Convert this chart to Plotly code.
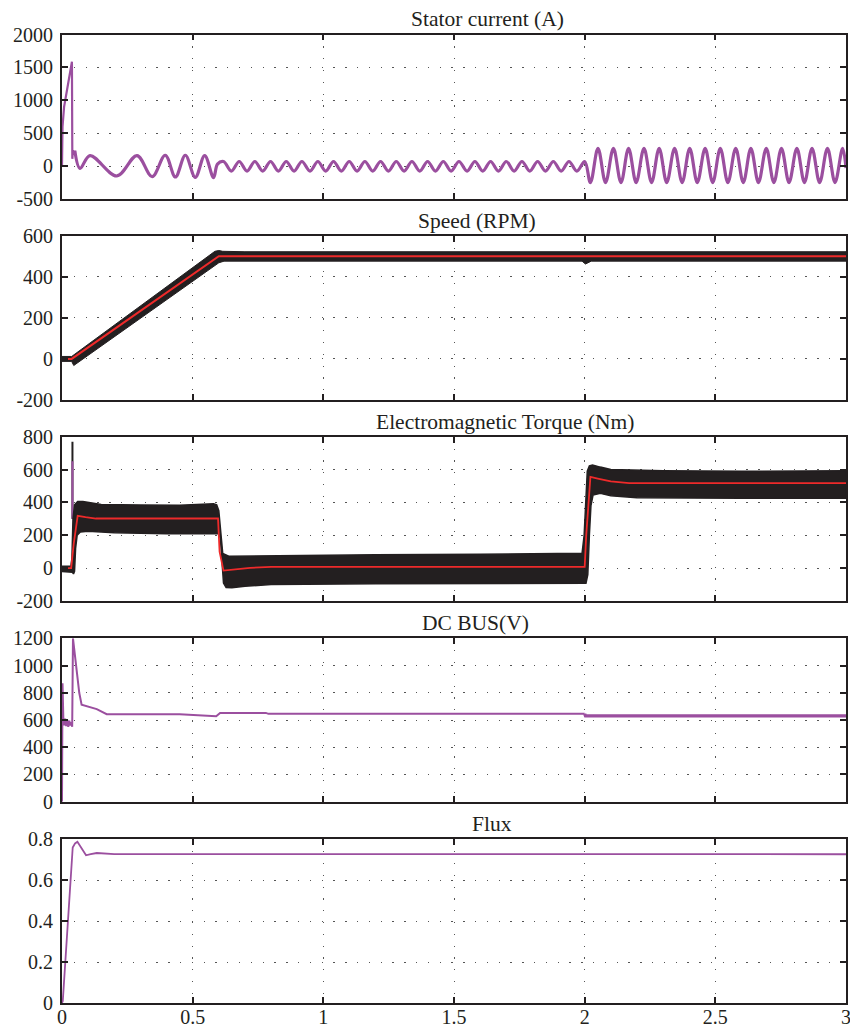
import plotly.graph_objects as go
from plotly.subplots import make_subplots

# ---------------- data ----------------
# Stator current (A): start-up spike (straight segments)
cur_spike_t = [0.0, 0.002, 0.008, 0.020, 0.030, 0.038, 0.0395, 0.042, 0.046, 0.049]
cur_spike_v = [0, 600, 900, 1150, 1380, 1585, 110, 240, 170, 235]
# Stator current (A): oscillation extrema (peaks / troughs), smoothed by spline
cur_t = [0.049, 0.069, 0.107, 0.210, 0.287, 0.345, 0.395, 0.434, 0.472, 0.510,
         0.546, 0.580, 0.595,
         0.618, 0.648, 0.678, 0.708, 0.738, 0.768, 0.798, 0.828, 0.858, 0.888,
         0.918, 0.949, 0.979, 1.009, 1.039, 1.069, 1.099, 1.129, 1.159, 1.189,
         1.219, 1.249, 1.279, 1.309, 1.339, 1.369, 1.399, 1.429, 1.459, 1.489,
         1.519, 1.550, 1.580, 1.610, 1.640, 1.670, 1.700, 1.730, 1.760, 1.790,
         1.820, 1.850, 1.880, 1.910, 1.940, 1.970, 2.000,
         2.022, 2.051, 2.080, 2.110, 2.139, 2.168, 2.197, 2.227, 2.256, 2.285,
         2.314, 2.344, 2.373, 2.402, 2.431, 2.461, 2.490, 2.519, 2.548, 2.578,
         2.607, 2.636, 2.665, 2.695, 2.724, 2.753, 2.782, 2.812, 2.841, 2.870,
         2.899, 2.929, 2.958, 2.987, 3.000]
cur_v = [235, -35, 160, -150, 160, -160, 165, -165, 165, -170,
         160, -175, 30,
         70, -75, 70, -75, 70, -75, 70, -75, 70, -75,
         70, -75, 70, -75, 70, -75, 70, -75, 70, -75,
         70, -75, 70, -75, 70, -75, 70, -75, 70, -75,
         70, -75, 70, -75, 70, -75, 70, -75, 70, -75,
         70, -75, 70, -75, 70, -75, 70,
         -250, 270, -250, 270, -250, 270, -250, 270, -250, 270,
         -250, 270, -250, 270, -250, 270, -250, 270, -250, 270,
         -250, 270, -250, 270, -250, 270, -250, 270, -250, 270,
         -250, 270, -250, 270, -30]

# Speed (RPM): reference (red) and measured band (black) envelopes
spd_ref_t = [0.0, 0.037, 0.600, 3.000]
spd_ref_v = [0, 0, 500, 500]
spd_up_t = [0.0, 0.037, 0.585, 0.600, 0.615, 0.700, 3.000]
spd_up_v = [12, 12, 524, 528, 524, 522, 522]
spd_lo_t = [0.0, 0.037, 0.045, 0.600, 0.620, 1.990, 2.003, 2.012, 2.025, 3.000]
spd_lo_v = [-12, -12, -32, 468, 476, 476, 462, 466, 476, 476]

# Electromagnetic torque (Nm): reference (red) and band (black) envelopes
trq_ref_t = [0.0, 0.035, 0.045, 0.060, 0.090, 0.130, 0.597, 0.603, 0.618, 0.640,
             0.720, 0.800, 2.000, 2.006, 2.022, 2.050, 2.100, 2.170, 3.000]
trq_ref_v = [0, 0, 150, 318, 310, 302, 302, 100, -15, -12,
             2, 8, 8, 200, 555, 545, 528, 518, 518]
trq_up_t = [0.0, 0.034, 0.038, 0.042, 0.048, 0.060, 0.080, 0.150, 0.300, 0.450,
            0.580, 0.592, 0.600, 0.606, 0.615, 0.640, 0.800, 1.200, 1.600, 1.990,
            1.998, 2.004, 2.010, 2.018, 2.030, 2.060, 2.100, 2.300, 2.600, 3.000]
trq_up_v = [12, 12, 60, 300, 385, 405, 405, 388, 385, 383,
            392, 385, 350, 250, 90, 72, 75, 82, 85, 90,
            200, 450, 590, 622, 628, 615, 600, 592, 590, 592]
trq_lo_t = [0.0, 0.040, 0.044, 0.048, 0.052, 0.058, 0.070, 0.100, 0.200, 0.400,
            0.600, 0.606, 0.612, 0.618, 0.628, 0.650, 0.700, 0.800, 1.200, 1.600,
            2.005, 2.012, 2.018, 2.024, 2.032, 2.060, 2.100, 2.200, 2.600, 3.000]
trq_lo_v = [-20, -25, -35, -20, 120, 200, 220, 225, 215, 210,
            210, 180, 40, -90, -118, -120, -110, -100, -95, -92,
            -92, -40, 200, 380, 445, 455, 440, 428, 425, 425]
trq_spike_t = [0.040, 0.040]
trq_spike_black = [300, 770]
trq_spike_purple = [300, 650]

# DC bus (V)
dc_t = [0.0, 0.002, 0.005, 0.008, 0.012, 0.016, 0.020, 0.024, 0.028, 0.032,
        0.036, 0.039, 0.042, 0.050, 0.056, 0.066, 0.075, 0.100, 0.133, 0.171,
        0.450, 0.590, 0.605, 0.780, 0.790, 2.000]
dc_v = [0, 870, 620, 560, 610, 555, 600, 550, 595, 560,
        585, 550, 1200, 1080, 965, 800, 712, 700, 680, 643,
        642, 628, 652, 652, 645, 645]
dc_end_t = [2.000, 2.003, 3.000]
dc_end_v = [645, 631, 631]

# Flux
flux_t = [0.0, 0.003, 0.041, 0.050, 0.059, 0.070, 0.092, 0.110, 0.133, 0.200, 3.000]
flux_v = [0.0, 0.01, 0.76, 0.78, 0.788, 0.765, 0.722, 0.727, 0.733, 0.728, 0.727]

# axis ticks
x_ticks = [0, 0.5, 1, 1.5, 2, 2.5, 3]
cur_ticks = [-500, 0, 500, 1000, 1500, 2000]
spd_ticks = [-200, 0, 200, 400, 600]
trq_ticks = [-200, 0, 200, 400, 600, 800]
dc_ticks = [0, 200, 400, 600, 800, 1000, 1200]
flux_ticks = [0, 0.2, 0.4, 0.6, 0.8]

titles = ["Stator current (A)", "Speed (RPM)", "Electromagnetic Torque (Nm)",
          "DC BUS(V)", "Flux"]

# ---------------- styling ----------------
PURPLE = "#9b4f9f"
RED = "#ee2a2a"
BLACK = "#231f20"
FONT = "Liberation Serif"

fig = make_subplots(rows=5, cols=1, shared_xaxes=False)

# panel 1
fig.add_trace(go.Scatter(x=cur_spike_t, y=cur_spike_v, mode="lines",
                         line=dict(color=PURPLE, width=2.2)), row=1, col=1)
fig.add_trace(go.Scatter(x=cur_t, y=cur_v, mode="lines",
                         line=dict(color=PURPLE, width=3.2, shape="spline", smoothing=1.0)),
              row=1, col=1)

# panel 2
fig.add_trace(go.Scatter(x=spd_up_t + spd_lo_t[::-1], y=spd_up_v + spd_lo_v[::-1],
                         mode="lines", fill="toself", fillcolor=BLACK,
                         line=dict(color=BLACK, width=1)), row=2, col=1)
fig.add_trace(go.Scatter(x=spd_ref_t, y=spd_ref_v, mode="lines",
                         line=dict(color=RED, width=2)), row=2, col=1)

# panel 3
fig.add_trace(go.Scatter(x=trq_spike_t, y=trq_spike_black, mode="lines",
                         line=dict(color=BLACK, width=2)), row=3, col=1)
fig.add_trace(go.Scatter(x=trq_spike_t, y=trq_spike_purple, mode="lines",
                         line=dict(color=PURPLE, width=2)), row=3, col=1)
fig.add_trace(go.Scatter(x=trq_up_t + trq_lo_t[::-1], y=trq_up_v + trq_lo_v[::-1],
                         mode="lines", fill="toself", fillcolor=BLACK,
                         line=dict(color=BLACK, width=1.5)),
              row=3, col=1)
fig.add_trace(go.Scatter(x=trq_ref_t, y=trq_ref_v, mode="lines",
                         line=dict(color=RED, width=1.8)), row=3, col=1)

# panel 4
fig.add_trace(go.Scatter(x=dc_t, y=dc_v, mode="lines",
                         line=dict(color=PURPLE, width=2)), row=4, col=1)
fig.add_trace(go.Scatter(x=dc_end_t, y=dc_end_v, mode="lines",
                         line=dict(color=PURPLE, width=3.2)), row=4, col=1)

# panel 5
fig.add_trace(go.Scatter(x=flux_t, y=flux_v, mode="lines",
                         line=dict(color=PURPLE, width=1.8)), row=5, col=1)

# ---------------- layout ----------------
W, H = 850, 1027
ML, MR, MT, MB = 62, 4, 34, 24
PH = H - MT - MB
PW = W - ML - MR


def dom(top_px, bot_px):
    return [(H - MB - bot_px) / PH, (H - MB - top_px) / PH]


panels_px = [(34.5, 199), (235.7, 400), (436.7, 601), (638.3, 801.7), (839.3, 1003)]
title_cx = [487, 477, 504.7, 476, 491.5]
yticks_all = [cur_ticks, spd_ticks, trq_ticks, dc_ticks, flux_ticks]
yranges = [[-500, 2000], [-200, 600], [-200, 800], [0, 1200], [0, 0.8]]

axis_common = dict(showline=True, linecolor=BLACK, linewidth=1.8, mirror="ticks",
                   ticks="inside", ticklen=6, tickwidth=1.5, tickcolor=BLACK,
                   showgrid=True, gridcolor="#555555", gridwidth=1.3,
                   griddash="1.3px,10.5px", zeroline=False, automargin=False,
                   ticklabeloverflow="allow",
                   tickfont=dict(family=FONT, size=20, color=BLACK))

for i in range(5):
    n = "" if i == 0 else str(i + 1)
    d = dom(*panels_px[i])
    fig.layout["yaxis" + n].update(
        domain=d, range=yranges[i], tickmode="array", tickvals=yticks_all[i],
        ticktext=[("%g" % v) for v in yticks_all[i]], ticklabelstandoff=3,
        **axis_common)
    fig.layout["xaxis" + n].update(
        range=[0, 3], tickmode="array", tickvals=x_ticks,
        ticktext=[("%g" % v) for v in x_ticks] if i == 4 else [""] * len(x_ticks),
        showticklabels=(i == 4), ticklabelstandoff=-5,
        **axis_common)
    fig.add_annotation(text=titles[i], xref="paper", yref="paper",
                       x=(title_cx[i] - ML) / PW, y=d[1], xanchor="center",
                       yanchor="bottom", yshift=1, showarrow=False,
                       font=dict(family=FONT, size=21.5, color=BLACK))

fig.update_layout(width=W, height=H, margin=dict(l=ML, r=MR, t=MT, b=MB),
                  paper_bgcolor="white", plot_bgcolor="white", showlegend=False,
                  font=dict(family=FONT, color=BLACK))

fig.write_html("out.html")
